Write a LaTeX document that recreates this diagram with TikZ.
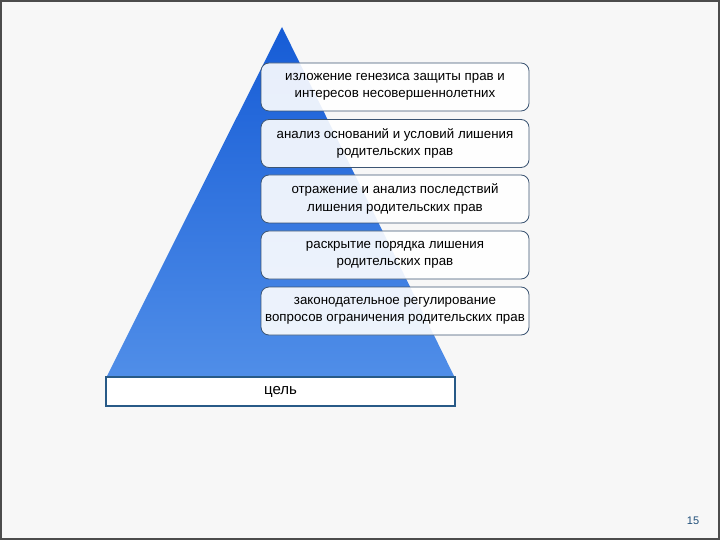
\documentclass[tikz,border=0pt]{standalone}
\usepackage{fontspec}
\setmainfont{Liberation Sans}
\usepackage{xcolor}
\usepackage{tikz}
\usetikzlibrary{positioning}
\definecolor{slidebg}{RGB}{247,247,247}
\definecolor{pyrtop}{RGB}{22,92,214}
\definecolor{pyrbottom}{RGB}{80,142,232}
\definecolor{boxedge}{RGB}{60,85,115}
\definecolor{goaledge}{RGB}{40,90,135}
\definecolor{pagenum}{RGB}{31,78,121}

\tikzset{
    stagebox/.style={draw=boxedge, line width=0.8pt, rounded corners=8bp,
          fill=white, fill opacity=0.9, text opacity=1, text=black,
          minimum width=268bp, minimum height=48bp, align=center,
          inner xsep=2bp,
          font=\fontsize{13.3bp}{17.5bp}\selectfont},
    goalbox/.style={draw=goaledge, line width=1.6pt, fill=white,
          minimum width=349bp, minimum height=29bp,
          font=\fontsize{15bp}{17bp}\selectfont}
}

\begin{document}
\begin{tikzpicture}[x=1bp, y=-1bp]
    % slide
    \fill[slidebg] (0,0) rectangle (720,540);
    \useasboundingbox (0,0) rectangle (720,540);
    \draw[black!70, line width=2bp] (1,1) rectangle (719,539);

    % pyramid
    \shade[top color=pyrtop, bottom color=pyrbottom]
        (282,27) -- (455,378) -- (106,378) -- cycle;

    % stages
    \node[stagebox] (s1) at (395,87) {изложение генезиса защиты прав и\\интересов несовершеннолетних};
    \node[stagebox] (s2) at (395,143.5) {анализ оснований и условий лишения\\родительских прав};
    \node[stagebox] (s3) at (395,199) {отражение и анализ последствий\\лишения родительских прав};
    \node[stagebox] (s4) at (395,255) {раскрытие  порядка лишения\\родительских прав};
    \node[stagebox] (s5) at (395,311) {законодательное регулирование\\вопросов ограничения родительских прав};

    % base
    \node[goalbox] (goal) at (280.5,391.5) {цель};

    \node[text=pagenum, font=\fontsize{11bp}{13bp}\selectfont] (page) at (693,521) {15};
\end{tikzpicture}
\end{document}
